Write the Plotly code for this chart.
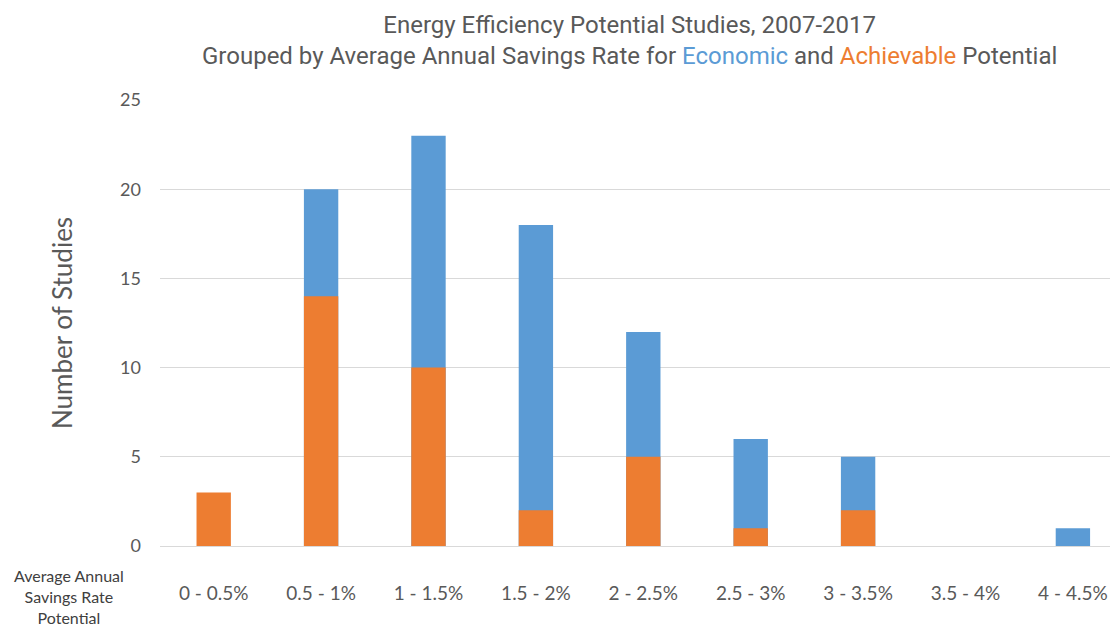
import plotly.graph_objects as go

categories = ["0 - 0.5%", "0.5 - 1%", "1 - 1.5%", "1.5 - 2%", "2 - 2.5%",
              "2.5 - 3%", "3 - 3.5%", "3.5 - 4%", "4 - 4.5%"]
economic = [0, 20, 23, 18, 12, 6, 5, 0, 1]
achievable = [3, 14, 10, 2, 5, 1, 2, 0, 0]

BLUE = "#5B9BD5"
ORANGE = "#ED7D31"
GREY = "#595959"

fig = go.Figure()
fig.add_trace(go.Bar(x=categories, y=economic, name="Economic",
                     marker=dict(color=BLUE, line=dict(width=0)), width=0.32))
fig.add_trace(go.Bar(x=categories, y=achievable, name="Achievable",
                     marker=dict(color=ORANGE, line=dict(width=0)), width=0.32))

fig.update_layout(
    barmode="overlay",
    width=1118, height=628,
    margin=dict(l=152, r=8, t=92, b=90),
    plot_bgcolor="white", paper_bgcolor="white",
    showlegend=False,
    font=dict(family="Lato, Open Sans, sans-serif", color=GREY),
    xaxis=dict(
        range=[-0.5, 8.42], showgrid=False, showline=False, zeroline=False,
        tickfont=dict(size=19, color=GREY), ticklabelstandoff=34,
        fixedrange=True,
    ),
    yaxis=dict(
        range=[0, 25], dtick=5, showgrid=True, gridcolor="#D9D9D9", gridwidth=1,
        zeroline=True, zerolinecolor="#D9D9D9", zerolinewidth=1,
        showline=False, tickfont=dict(size=18, color=GREY), ticklabelstandoff=18,
        title=dict(text="Number of Studies", font=dict(size=26, color=GREY), standoff=40),
    ),
)

fig.add_annotation(
    text=("Energy Efficiency Potential Studies, 2007-2017<br>"
          "Grouped by Average Annual Savings Rate for "
          f"<span style='color:{BLUE}'>Economic</span> and "
          f"<span style='color:{ORANGE}'>Achievable</span> Potential"),
    xref="paper", yref="paper", x=0.49, y=1.204, xanchor="center", yanchor="top",
    showarrow=False, align="center",
    font=dict(family="Roboto, sans-serif", size=24, color=GREY),
)

fig.add_annotation(
    text="Average Annual<br>Savings Rate<br>Potential",
    xref="paper", yref="paper", x=-0.095, y=-0.041, xanchor="center", yanchor="top",
    showarrow=False, align="center",
    font=dict(size=16, color="#404040", family="Lato, sans-serif"),
)

fig.write_html("out.html")
